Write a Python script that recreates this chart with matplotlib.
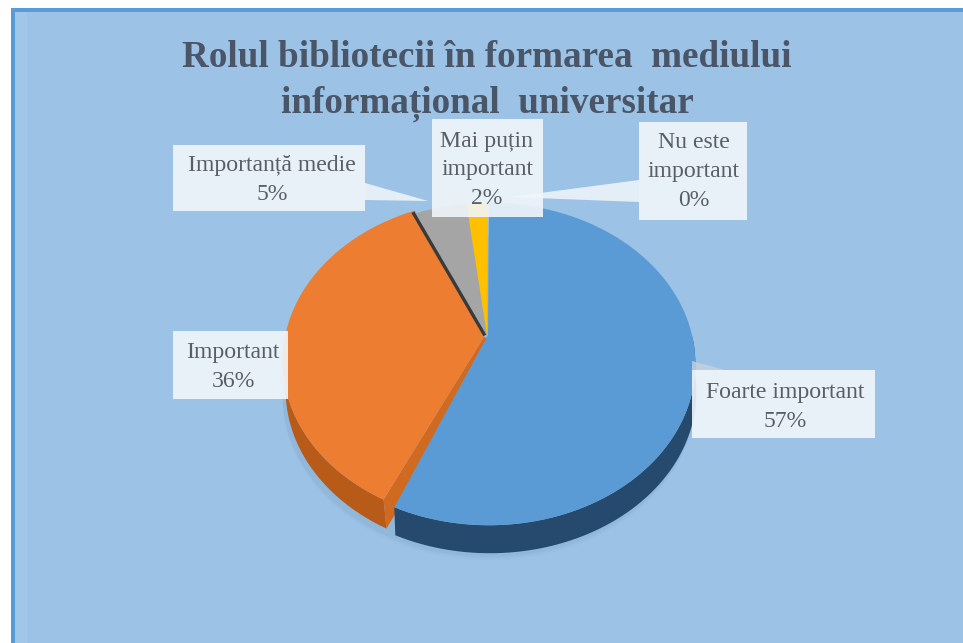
import numpy as np
import matplotlib
matplotlib.use("Agg")
import matplotlib.pyplot as plt
from matplotlib.patches import Rectangle

categories = ["Foarte important", "Important", "Importanță medie", "Mai puțin important", "Nu este important"]
values = [57, 36, 5, 2, 0]
title = "Rolul bibliotecii în formarea  mediului\ninformațional  universitar"
label_text = ["Foarte important\n57%", "Important\n36%", "Importanță medie\n5%",
              "Mai puțin\nimportant\n2%", "Nu este\nimportant\n0%"]
colors = ["#5B9BD5", "#ED7D31", "#A5A5A5", "#FFC000", "#4472C4"]
side_colors = ["#264A6E", "#B85A18", "#555555", "#B38600", "#2F5597"]

W, H = 963, 643
fig = plt.figure(figsize=(W / 100, H / 100), dpi=100, facecolor="white")
ax = fig.add_axes([0, 0, 1, 1])
ax.set_xlim(0, W); ax.set_ylim(H, 0); ax.axis("off")
plt.rcParams["font.family"] = ["Liberation Serif", "DejaVu Serif"]

# background
ax.add_patch(Rectangle((11, 8), W - 11, H - 8, fc="#5B9BD5", ec="none", zorder=0))
ax.add_patch(Rectangle((15, 12), W - 15, H - 12, fc="#9CC3E6", ec="none", zorder=0.1))
ax.add_patch(Rectangle((15, 12), 12, H - 12, fc="#A6CBEA", ec="none", alpha=.6, zorder=0.2))

CX, CY, RX, RY, K = 489, 335, 203, 156, -0.18

def rim(t, dx=0, dy=0):
    s = -np.cos(t)
    d = 1 + K * s
    return CX + RX * np.sin(t) / d + dx, CY + RY * s / d + dy

fracs = np.cumsum([0] + values) / sum(values) * 2 * np.pi
g = np.radians(1)
trim = [(0, -2.3 * g), (0.6 * g, 0), (0, 0), (0, 0), (0, 0)]
explode = [(0, 0), (0, -3), (0, 0), (-1, 0), (0, 0)]
apex = [(488, 335), (484, 337), (487, 335), (487, 335), (489, 335)]
depths = [(1, 28), (3, 29), (0, 0), (0, 0), (0, 0)]

# soft shadow under the pie
tt = np.linspace(0, 2 * np.pi, 200)
for grow, a in [(10, .05), (6, .07), (3, .08)]:
    x, y = rim(tt, 0, 30 + grow * .5)
    ax.fill(x, y, color="#6E93B5", alpha=a, lw=0, zorder=0.5)

order = [1, 0, 2, 3]
z = 1.0
for i in order:
    a0, a1 = fracs[i] + trim[i][0], fracs[i + 1] + trim[i][1]
    t = np.linspace(a0, a1, 120)
    ex, ey = explode[i]
    dx, dy = depths[i]
    px, py = apex[i]
    x, y = rim(t, ex, ey)
    if dy:
        # front rim
        vis = (t > np.pi / 2) & (t < 3 * np.pi / 2)
        xv, yv = x[vis], y[vis]
        ax.fill(np.r_[xv, (xv + dx)[::-1]], np.r_[yv, (yv + dy)[::-1]],
                color=side_colors[i], lw=0, zorder=z)
    if i == 1:
        # cut face toward the blue slice
        ax.fill([px, x[0], x[0] + dx, px + 12], [py, y[0], y[0] + dy, py + 5],
                color="#D06A20", lw=0, zorder=z)
    ax.fill(np.r_[px, x], np.r_[py, y], color=colors[i], lw=0, zorder=z + .1)
    if i == 2:
        ax.plot([px - 3, x[0] - 1], [py - 1, y[0]], color="#3A3A3A", lw=2.4, zorder=z + .2)
    z += 1

# leader lines
ax.fill([365, 365, 428], [183, 200, 201], color="#F2F6FA", alpha=.85, lw=0, zorder=6)
ax.fill([639, 639, 510], [180, 202, 197], color="#F2F6FA", alpha=.85, lw=0, zorder=6)
ax.fill([692, 692, 725], [361, 370, 370], color="#C8D2DA", alpha=.8, lw=0, zorder=6)

# label boxes
boxes = [(692, 370, 183, 68), (173, 331, 115, 68), (173, 145, 192, 66),
         (432, 119, 111, 98), (639, 122, 108, 98)]
centers = [(785, 407), (233, 367), (272, 180), (487, 170), (694, 172)]
for b, c, s in zip(boxes, centers, label_text):
    ax.add_patch(Rectangle((b[0], b[1]), b[2], b[3], fc="#F1F6FB", ec="none", alpha=.9, zorder=7))
    ax.text(c[0], c[1], s, ha="center", va="center", fontsize=17.1, color="#5A5F66",
            linespacing=1.5, zorder=8)

ax.text(487, 81, title, ha="center", va="center", fontsize=26.7, fontweight="bold",
        color="#4A5668", linespacing=1.38, zorder=5)

fig.savefig("out.png", dpi=100, facecolor="white")
